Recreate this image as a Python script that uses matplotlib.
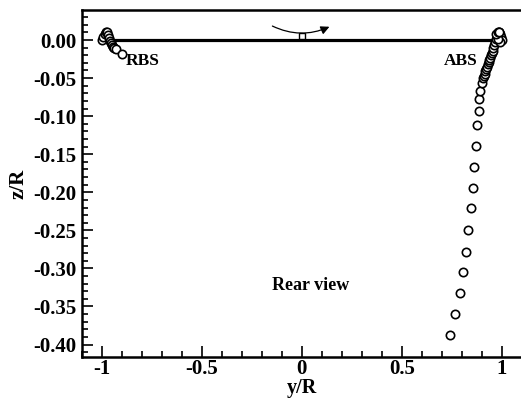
import matplotlib
matplotlib.use("Agg")
import matplotlib.pyplot as plt
from matplotlib.patches import FancyArrowPatch
from matplotlib.ticker import MultipleLocator, FormatStrFormatter

# ABS tip vortex trace (y/R, z/R)
abs_y = [0.738, 0.767, 0.792, 0.803, 0.822, 0.830, 0.845, 0.855, 0.860, 0.868,
         0.877, 0.885, 0.887, 0.892, 0.898, 0.905, 0.909, 0.913, 0.917, 0.921,
         0.925, 0.929, 0.933, 0.937, 0.941, 0.945, 0.949, 0.953, 0.957, 0.962,
         0.966, 0.970, 0.975, 0.980, 0.985, 0.990, 0.995, 1.000, 0.990, 0.980,
         0.972, 0.978, 0.986]
abs_z = [-0.388, -0.360, -0.332, -0.305, -0.278, -0.249, -0.221, -0.194, -0.167, -0.139,
         -0.111, -0.093, -0.077, -0.067, -0.057, -0.050, -0.047, -0.044, -0.041, -0.038,
         -0.035, -0.032, -0.029, -0.026, -0.023, -0.020, -0.017, -0.014, -0.011, -0.007,
         -0.003, 0.001, 0.005, 0.009, 0.010, 0.008, 0.004, 0.000, -0.002, 0.002,
         0.008, 0.011, 0.011]

# RBS tip vortex trace
rbs_y = [-1.000, -0.992, -0.985, -0.980, -0.975, -0.970, -0.965, -0.960, -0.955,
         -0.950, -0.945, -0.940, -0.930, -0.900]
rbs_z = [0.000, 0.004, 0.008, 0.011, 0.010, 0.007, 0.003, -0.001, -0.004,
         -0.007, -0.009, -0.011, -0.012, -0.018]

plt.rcParams['font.family'] = ['Liberation Serif', 'DejaVu Serif']
plt.rcParams['font.weight'] = 'bold'

fig = plt.figure(figsize=(5.21, 3.99), dpi=100)
ax = fig.add_axes([0.157, 0.105, 0.845, 0.870])

# blade line and hub
ax.plot([-1, 1], [0, 0], color='black', lw=2.3, zorder=2)
ax.plot([0], [0.0055], marker='s', ms=5, mfc='white', mec='black', mew=1.0, zorder=3)
arrow = FancyArrowPatch((-0.16, 0.020), (0.15, 0.019), connectionstyle="arc3,rad=0.25",
                        arrowstyle="-|>,head_length=5,head_width=2.5", color='black', lw=0.9)
ax.add_patch(arrow)

ax.plot(abs_y, abs_z, 'o', ms=6, mfc='white', mec='black', mew=1.2, zorder=4)
ax.plot(rbs_y, rbs_z, 'o', ms=6, mfc='white', mec='black', mew=1.2, zorder=4)

ax.text(-0.88, -0.028, 'RBS', fontsize=12.5, fontweight='bold', ha='left', va='center')
ax.text(0.878, -0.028, 'ABS', fontsize=12.5, fontweight='bold', ha='right', va='center')
ax.text(0.046, -0.322, 'Rear view', fontsize=13, fontweight='bold', ha='center', va='center')

ax.set_xlim(-1.1, 1.1)
ax.set_ylim(-0.4165, 0.0395)
ax.xaxis.set_major_locator(MultipleLocator(0.5))
ax.xaxis.set_minor_locator(MultipleLocator(0.1))
ax.yaxis.set_major_locator(MultipleLocator(0.05))
ax.yaxis.set_minor_locator(MultipleLocator(0.01))
ax.yaxis.set_major_formatter(FormatStrFormatter('%.2f'))
ax.xaxis.set_major_formatter(plt.FuncFormatter(lambda v, p: '%g' % v))

ax.tick_params(which='both', direction='in', top=False, right=False, width=1.2,
               labelsize=15)
ax.tick_params(which='major', length=8)
ax.tick_params(which='minor', length=4.5)
ax.tick_params(axis='x', which='major', pad=1.5)
ax.tick_params(axis='y', which='major', pad=4)
for lab in ax.get_xticklabels() + ax.get_yticklabels():
    lab.set_fontweight('bold')
for s in ax.spines.values():
    s.set_linewidth(1.8)
ax.spines['right'].set_visible(False)

ax.set_xlabel('y/R', fontsize=14.5, fontweight='bold', labelpad=-1)
ax.set_ylabel('z/R', fontsize=15, fontweight='bold', labelpad=3)

fig.savefig('out.png', dpi=100)
